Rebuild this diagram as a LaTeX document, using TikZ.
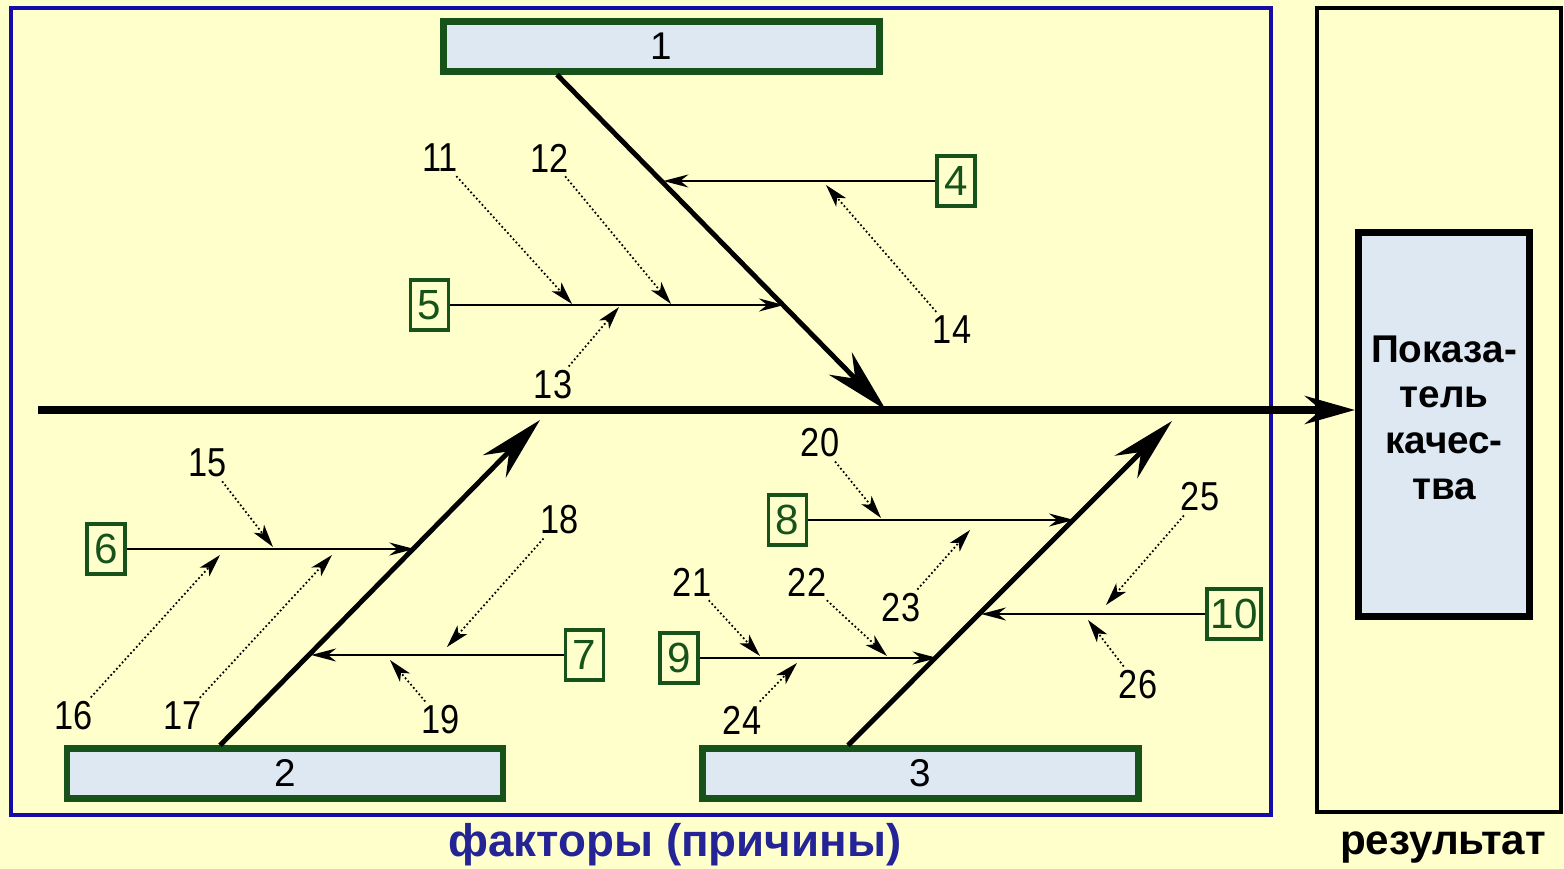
\documentclass[tikz,border=0pt]{standalone}
\usepackage{fontspec}
\setmainfont{Liberation Sans}
\newfontfamily\narrowfont[FakeStretch=0.85]{Liberation Sans}
\usepackage{xcolor}
\usepackage{tikz}
\usetikzlibrary{positioning,arrows.meta}
\definecolor{bgyellow}{RGB}{255,255,204}
\definecolor{boxblue}{RGB}{221,232,242}
\definecolor{catgreen}{RGB}{22,82,26}
\definecolor{frameblue}{RGB}{24,12,168}
\definecolor{txtblue}{RGB}{36,36,150}
\tikzset{
  cause/.style={draw=catgreen, line width=1.8pt, fill=boxblue, minimum width=4.36cm,
                minimum height=5mm, inner sep=0pt, font=\fontsize{11}{13}\selectfont},
  factor/.style={draw=catgreen, line width=1.1pt, text=catgreen, minimum width=3.8mm,
                 minimum height=5mm, inner sep=1pt, font=\fontsize{12}{14}\selectfont},
  result/.style={draw, line width=2pt, fill=boxblue, minimum width=1.71cm, minimum height=3.84cm,
                 align=center, font=\bfseries\fontsize{11}{13}\selectfont},
  num/.style={inner sep=1pt, font=\narrowfont\fontsize{11.5}{13}\selectfont},
  spine/.style={line width=2pt, -{Stealth[length=5mm, width=2.8mm]}},
  bone/.style={line width=1.4pt, -{Stealth[length=6.5mm, width=3.2mm]}},
  sub/.style={line width=0.6pt, -{Stealth[length=2.5mm, width=1.3mm]}},
  hint/.style={line width=0.5pt, dash pattern=on 0.5pt off 0.7pt,
               -{Stealth[length=2.3mm, width=1.3mm, inset=0.6mm]}},
}

\begin{document}
\begin{tikzpicture}

  \fill[bgyellow] (0,0) rectangle (15.64,8.69);
  \useasboundingbox (0,0) rectangle (15.64,8.69);

  % Frames
  \draw[frameblue, line width=1.2pt] (0.11,0.54) rectangle (12.71,8.61);
  \draw[line width=1.2pt] (13.17,0.57) rectangle (15.61,8.61);

  % Main causes and result
  \node[cause]  (cat1) at (6.615,8.225) {1};
  \node[cause]  (cat2) at (2.85,0.955)  {2};
  \node[cause]  (cat3) at (9.205,0.955) {3};
  \node[result] (res)  at (14.44,4.445) {Показа-\\тель\\качес-\\тва\\[-9pt]};

  % Spine and bones
  \coordinate (tail) at (0.38,4.59);
  \draw[spine] (tail) -- (tail -| res.west);
  \coordinate (b1a) at ([xshift=-1.045cm]cat1.south);
  \coordinate (b1b) at (8.86,4.59);
  \coordinate (b2a) at ([xshift=-0.65cm]cat2.north);
  \coordinate (b2b) at (5.40,4.49);
  \coordinate (b3a) at ([xshift=-0.725cm]cat3.north);
  \coordinate (b3b) at (11.72,4.48);
  \draw[bone] (b1a) -- (b1b);
  \draw[bone] (b2a) -- (b2b);
  \draw[bone] (b3a) -- (b3b);

  % Secondary factors
  \node[factor] (f4)  at (9.56,6.88)  {4};
  \node[factor] (f5)  at (4.295,5.64) {5};
  \node[factor] (f6)  at (1.06,3.20)  {6};
  \node[factor] (f7)  at (5.845,2.14) {7};
  \node[factor] (f8)  at (7.875,3.49) {8};
  \node[factor] (f9)  at (6.79,2.11)  {9};
  \node[factor] (f10) at (12.34,2.55) {10};

  \coordinate (j4)  at (6.634,6.88);
  \coordinate (j5)  at (7.84,5.64);
  \coordinate (j6)  at (4.143,3.20);
  \coordinate (j7)  at (3.111,2.14);
  \coordinate (j8)  at (10.74,3.49);
  \coordinate (j9)  at (9.375,2.11);
  \coordinate (j10) at (9.81,2.55);

  \draw[sub] (f4) -- (j4);
  \draw[sub] (f5) -- (j5);
  \draw[sub] (f6) -- (j6);
  \draw[sub] (f7) -- (j7);
  \draw[sub] (f8) -- (j8);
  \draw[sub] (f9) -- (j9);
  \draw[sub] (f10) -- (j10);

  % Third-level factors
  \node[num] (n11) at (4.40,7.11)  {11};  \coordinate (t11) at (5.72,5.65);
  \node[num] (n12) at (5.50,7.11)  {12};  \coordinate (t12) at (6.71,5.65);
  \node[num] (n13) at (5.53,4.84)  {13};  \coordinate (t13) at (6.19,5.62);
  \node[num] (n14) at (9.52,5.39)  {14};  \coordinate (t14) at (8.26,6.84);
  \node[num] (n15) at (2.08,4.06)  {15};  \coordinate (t15) at (2.73,3.22);
  \node[num] (n16) at (0.74,1.53)  {16};  \coordinate (t16) at (2.20,3.14);
  \node[num] (n17) at (1.83,1.53)  {17};  \coordinate (t17) at (3.32,3.14);
  \node[num] (n18) at (5.60,3.49)  {18};  \coordinate (t18) at (4.47,2.22);
  \node[num] (n19) at (4.41,1.49)  {19};  \coordinate (t19) at (3.90,2.09);
  \node[num] (n20) at (8.20,4.26)  {20};  \coordinate (t20) at (8.81,3.51);
  \node[num] (n21) at (6.92,2.87)  {21};  \coordinate (t21) at (7.60,2.13);
  \node[num] (n22) at (8.07,2.87)  {22};  \coordinate (t22) at (8.87,2.13);
  \node[num] (n23) at (9.01,2.61)  {23};  \coordinate (t23) at (9.70,3.39);
  \node[num] (n24) at (7.42,1.49)  {24};  \coordinate (t24) at (7.97,2.06);
  \node[num] (n25) at (12.00,3.72) {25};  \coordinate (t25) at (11.06,2.64);
  \node[num] (n26) at (11.38,1.84) {26};  \coordinate (t26) at (10.88,2.49);

  \draw[hint] (n11) -- (t11);
  \draw[hint] (n12) -- (t12);
  \draw[hint] (n13) -- (t13);
  \draw[hint] (n14) -- (t14);
  \draw[hint] (n15) -- (t15);
  \draw[hint] (n16) -- (t16);
  \draw[hint] (n17) -- (t17);
  \draw[hint] (n18) -- (t18);
  \draw[hint] (n19) -- (t19);
  \draw[hint] (n20) -- (t20);
  \draw[hint] (n21) -- (t21);
  \draw[hint] (n22) -- (t22);
  \draw[hint] (n23) -- (t23);
  \draw[hint] (n24) -- (t24);
  \draw[hint] (n25) -- (t25);
  \draw[hint] (n26) -- (t26);

  % Captions
  \node[font=\bfseries\fontsize{13}{15}\selectfont, text=txtblue] (factlbl) at (6.75,0.24) {факторы (причины)};
  \node[font=\bfseries\fontsize{12}{14}\selectfont] (reslbl) at (14.43,0.21) {результат};

\end{tikzpicture}
\end{document}
